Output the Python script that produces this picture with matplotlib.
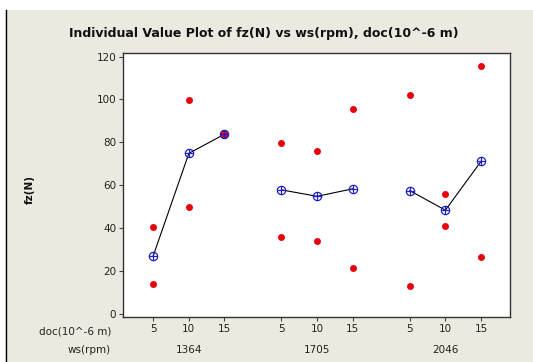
import matplotlib
matplotlib.use("Agg")
import matplotlib.pyplot as plt
import matplotlib.transforms as mtransforms
import numpy as np
from matplotlib.patches import Rectangle
from matplotlib.lines import Line2D


ws_groups = ["1364", "1705", "2046"]
doc_levels = ["5", "10", "15"]

fz_1364 = [[40.4, 13.8], [99.7, 50.0], [84.4, 83.2]]
fz_1705 = [[79.7, 36.0], [75.8, 33.9], [95.4, 21.3]]
fz_2046 = [[102.0, 13.0], [55.8, 41.0], [115.6, 26.6]]

W, H = 533, 362
BG = "#ECE9E0"

fig = plt.figure(figsize=(W / 100, H / 100), dpi=100)
fig.patch.set_facecolor("white")
fig.patches.append(Rectangle((5 / W, 0), 1 - 5 / W, 1 - 10 / H, transform=fig.transFigure,
                             facecolor=BG, edgecolor="none", zorder=-10))
fig.lines.append(Line2D([5.5 / W, 5.5 / W], [0, 1 - 10 / H], transform=fig.transFigure,
                        color="black", linewidth=1.0))

left, right, top, bottom = 123.3, 509.5, 53.3, 316.7
ax = fig.add_axes([left / W, 1 - bottom / H, (right - left) / W, (bottom - top) / H])
ax.set_facecolor("white")
group_trans = mtransforms.blended_transform_factory(ax.transData, fig.transFigure)

group_gap = 3.6
positions = []
for g, data in enumerate([fz_1364, fz_1705, fz_2046]):
    xs = [g * group_gap + i for i in range(len(doc_levels))]
    positions.extend(xs)
    means = [np.mean(v) for v in data]
    for x, vals in zip(xs, data):
        ax.plot([x] * len(vals), vals, "o", color="#E8000B", markersize=5,
                markeredgewidth=0, zorder=3)
    ax.plot(xs, means, "-", color="black", linewidth=0.8, zorder=2)
    ax.plot(xs, means, "o", markerfacecolor="none", markeredgecolor="#2020C0",
            markersize=6, markeredgewidth=0.9, zorder=4)
    ax.plot(xs, means, "+", color="#2020C0", markersize=6, markeredgewidth=0.9, zorder=4)
    ax.text(xs[1], 1 - 350 / H, ws_groups[g], transform=group_trans,
            ha="center", va="center", fontsize=7.5, color="#222222")

ax.set_xlim(-0.84, 10.0)
ax.set_ylim(-1.26, 121.5)
ax.set_xticks(positions)
ax.set_xticklabels(doc_levels * 3)
ax.set_yticks(range(0, 121, 20))
ax.tick_params(axis="both", direction="out", length=3, width=0.8, labelsize=7.5,
               colors="#444444", labelcolor="#222222", pad=2)
for s in ax.spines.values():
    s.set_color("#333333")
    s.set_linewidth(1.0)

fig.text(264 / W, 1 - 33 / H, "Individual Value Plot of fz(N) vs ws(rpm), doc(10^-6 m)",
         ha="center", va="center", fontsize=9, fontweight="bold", color="#111111")
fig.text(30 / W, 1 - 190 / H, "fz(N)", rotation=90, ha="center", va="center",
         fontsize=7.5, fontweight="bold", color="#111111")
fig.text(111 / W, 1 - 332 / H, "doc(10^-6 m)", ha="right", va="center",
         fontsize=7.5, color="#222222")
fig.text(111 / W, 1 - 350 / H, "ws(rpm)", ha="right", va="center",
         fontsize=7.5, color="#222222")

fig.savefig("out.png", dpi=100, facecolor=fig.get_facecolor())
